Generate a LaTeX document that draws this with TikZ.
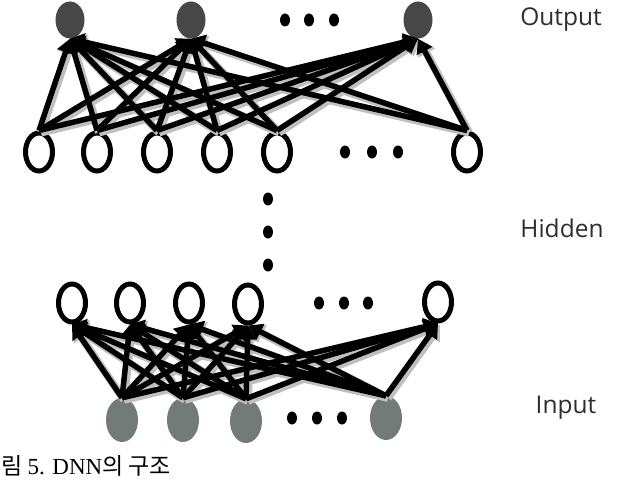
\documentclass[tikz,border=0pt]{standalone}
\usepackage{fontspec}
\setsansfont{Open Sans}
\newfontfamily\capfont{Liberation Serif}
\newfontfamily\krfont{Noto Sans CJK KR}
\usetikzlibrary{shapes.geometric,arrows.meta}
\definecolor{outgray}{HTML}{474747}
\definecolor{ingray}{HTML}{737B79}
\definecolor{labelgray}{HTML}{2E2E2E}
\tikzset{
  outnode/.style={ellipse, fill=outgray, minimum width=29pt, minimum height=37pt, inner sep=0pt},
  hidnode/.style={ellipse, draw=black, fill=white, line width=5pt, minimum width=27pt, minimum height=38pt, inner sep=0pt},
  innode/.style={ellipse, fill=ingray, minimum width=32pt, minimum height=44pt, inner sep=0pt},
  dotnode/.style={ellipse, fill=black, minimum width=10pt, minimum height=13pt, inner sep=0pt},
  edge/.style={line width=5.5pt, black, -{Triangle[length=14pt,width=17pt]}},
  shadowedge/.style={line width=8pt, gray!50, -{Triangle[length=14pt,width=19pt]}},
  layerlabel/.style={font=\sffamily\fontsize{24.5}{28}\selectfont, text=labelgray, inner sep=0pt}
}
\begin{document}
\begin{tikzpicture}[x=1pt,y=-1pt]
\useasboundingbox (0,0) rectangle (617,481);
\clip (0,0) rectangle (617,481);

% output layer
\node[outnode] (o1) at (70,20) {};
\node[outnode] (o2) at (191,20) {};
\node[outnode] (o3) at (418,20) {};
\node[dotnode] (od1) at (285,20) {};
\node[dotnode] (od2) at (309,20) {};
\node[dotnode] (od3) at (334,20) {};

% top hidden layer
\node[hidnode] (t1) at (39,152) {};
\node[hidnode] (t2) at (97,152) {};
\node[hidnode] (t3) at (157,152) {};
\node[hidnode] (t4) at (217,152) {};
\node[hidnode] (t5) at (277,152) {};
\node[hidnode] (t6) at (467,152) {};
\node[dotnode] (td1) at (345,152) {};
\node[dotnode] (td2) at (372,152) {};
\node[dotnode] (td3) at (398,152) {};

% vertical dots
\node[dotnode] (vd1) at (268,199) {};
\node[dotnode] (vd2) at (268,232) {};
\node[dotnode] (vd3) at (268,265) {};

% bottom hidden layer
\node[hidnode] (b1) at (72,303) {};
\node[hidnode] (b2) at (130,303) {};
\node[hidnode] (b3) at (189,303) {};
\node[hidnode] (b4) at (248,304) {};
\node[hidnode] (b5) at (438,302) {};
\node[dotnode] (bd1) at (319,303) {};
\node[dotnode] (bd2) at (344,303) {};
\node[dotnode] (bd3) at (368,303) {};

% input layer
\node[innode] (i1) at (122,420) {};
\node[innode] (i2) at (183,420) {};
\node[innode] (i3) at (246,421) {};
\node[innode] (i4) at (386,418) {};
\node[dotnode] (id1) at (292,418) {};
\node[dotnode] (id2) at (317,418) {};
\node[dotnode] (id3) at (342,418) {};

% shadows of connectors
\begin{scope}[transform canvas={shift={(2pt,-2pt)}}]
\foreach \h in {t1,t2,t3,t4,t5,t6}
  \foreach \o in {o1,o2,o3}
    \draw[shadowedge] (\h.north) -- (\o.south);
\foreach \i in {i1,i2,i3,i4}
  \foreach \h in {b1,b2,b3,b4,b5}
    \draw[shadowedge] (\i.north) -- (\h.south);
\end{scope}

% connectors
\foreach \h in {t1,t2,t3,t4,t5,t6}
  \foreach \o in {o1,o2,o3}
    \draw[edge] (\h.north) -- (\o.south);
\foreach \i in {i1,i2,i3,i4}
  \foreach \h in {b1,b2,b3,b4,b5}
    \draw[edge] (\i.north) -- (\h.south);

% labels
\node[layerlabel] (lout) at (561,20) {Output};
\node[layerlabel] (lhid) at (562,228) {Hidden};
\node[layerlabel] (lin) at (566,408) {Input};

% caption
\node[anchor=base west, inner sep=0pt, font=\fontsize{23}{26}\selectfont] (cap) at (1,474)
  {\krfont 림 {\capfont 5. DNN}의 구조};
\end{tikzpicture}
\end{document}
